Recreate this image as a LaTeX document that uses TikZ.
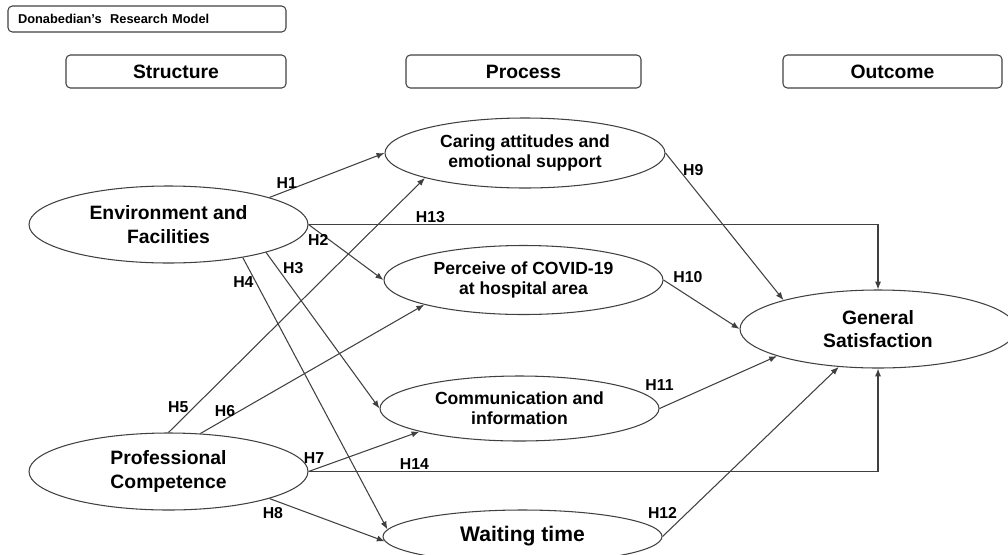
\documentclass[tikz,border=0pt]{standalone}
\usepackage{fontspec}
\setmainfont{Liberation Sans}
\usetikzlibrary{shapes.geometric}
\usetikzlibrary{arrows.meta}

\begin{document}
\begin{tikzpicture}[>={Latex[length=4.5pt,width=3.5pt]}, line width=0.6pt,
    color=black!75, every node/.append style={text=black},
    hbox/.style={draw, rounded corners=2.5pt, minimum height=0.66cm,
	font=\fontsize{11}{13}\selectfont\bfseries},
    oval/.style={draw, ellipse, inner sep=0pt, align=center,
	font=\fontsize{11}{13.5}\selectfont\bfseries},
    soval/.style={oval, font=\fontsize{10}{11.5}\selectfont\bfseries},
    hyp/.style={inner sep=1pt, font=\fontsize{9}{10}\selectfont\bfseries}]
    \useasboundingbox (0, 0) rectangle (20.16, -11.08);

    \path (2.94, -0.38) node [draw, rounded corners=2.5pt, minimum width=5.56cm,
	minimum height=0.52cm, text width=5.16cm, align=left,
	font=\fontsize{7.3}{8}\selectfont\bfseries] (title) {Donabedian's \ Research Model};
    \path (3.52, -1.43) node [hbox, minimum width=4.4cm] (struct) {Structure};
    \path (10.47, -1.43) node [hbox, minimum width=4.7cm] (proc) {Process};
    \path (17.85, -1.43) node [hbox, minimum width=4.38cm] (outc) {Outcome};

    \path (3.37, -4.49) node [oval, minimum width=5.58cm, minimum height=1.54cm]
	(env) {Environment and\\Facilities};
    \path (3.37, -9.43) node [oval, minimum width=5.58cm, minimum height=1.54cm]
	(prof) {Professional\\Competence};
    \path (10.5, -3.06) node [soval, minimum width=5.6cm, minimum height=1.4cm]
	(care) {Caring attitudes and\\emotional support};
    \path (10.47, -5.6) node [soval, minimum width=5.58cm, minimum height=1.38cm]
	(covid) {Perceive of COVID-19\\at hospital area};
    \path (10.39, -8.17) node [soval, minimum width=5.58cm, minimum height=1.3cm]
	(comm) {Communication and\\information};
    \path (10.45, -10.73) node [oval, minimum width=5.58cm, minimum height=1.06cm,
	font=\fontsize{12}{14}\selectfont\bfseries] (wait) {Waiting time};
    \path (17.56, -6.58) node [oval, minimum width=5.52cm, minimum height=1.56cm]
	(gen) {General\\Satisfaction};

    \draw [->] (env.15) -- (care.west) node[hyp,pos=0.15,above] (h1) {H1};
    \draw [->] (env.east) -- (covid.west) node[hyp,pos=0.13,below] (h2) {H2};
    \draw [->] (env.-16) -- (comm.west) node[hyp,pos=0.1,right=2pt] (h3) {H3};
    \draw [->] (env.-24) -- (wait.177) node[hyp,pos=0.09,left] (h4) {H4};
    \draw [->] (prof.north) -- (care.194) node[hyp,pos=0.1,left=2pt] (h5) {H5};
    \draw [->] (prof.50) -- (covid.194) node[hyp,pos=0.11,above] (h6) {H6};
    \draw [->] (prof.east) -- (comm.193) node[hyp,pos=0.05,above=2pt] (h7) {H7};
    \draw [->] (prof.-15) -- (wait.182) node[hyp,pos=0.03,below=3pt] (h8) {H8};
    \draw [->] (care.east) -- (gen.163) node[hyp,pos=0.115,right=1pt] (h9) {H9};
    \draw [->] (covid.east) -- (gen.west) node[hyp,pos=0.1,above right] (h10) {H10};
    \draw [->] (comm.east) -- (gen.195) node[hyp,pos=0,above=9pt] (h11) {H11};
    \draw [->] (wait.east) -- (gen.224) node[hyp,pos=0,above=9pt] (h12) {H12};
    \draw [->] (env.east) -| (gen.north) node[hyp,pos=0.107,above] (h13) {H13};
    \draw [->] (prof.east) -| (gen.south) node[hyp,pos=0.093,above] (h14) {H14};
\end{tikzpicture}
\end{document}
